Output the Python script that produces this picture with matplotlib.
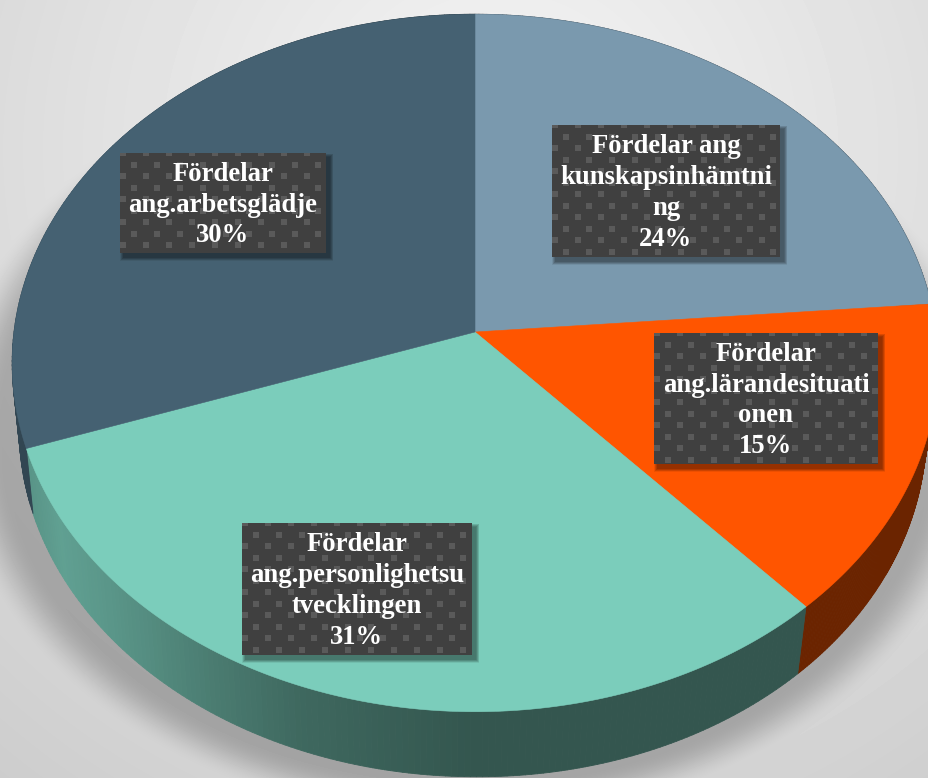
import numpy as np
import matplotlib
matplotlib.use("Agg")
import matplotlib.pyplot as plt
from matplotlib.collections import PolyCollection
from matplotlib.patches import Rectangle, Polygon

names = ["Fördelar ang\nkunskapsinhämtni\nng",
         "Fördelar\nang.lärandesituati\nonen",
         "Fördelar\nang.personlighetsu\ntvecklingen",
         "Fördelar\nang.arbetsglädje"]
values = [23.7, 14.6, 31.4, 30.3]
top_colors = ["#7a99ae", "#ff5500", "#7bcdbb", "#456172"]
label_boxes = [(552, 125, 780, 257), (654, 333, 878, 464),
               (242, 523, 472, 655), (120, 153, 326, 253)]

W, H = 929, 778
CX, CY, RX, RY, K = 475.0, 332.0, 461.0, 346.0, -0.0888
DEPTH = 65.0


def project(t):
    u, v = np.sin(t), np.cos(t)
    d = 1 - K * v
    return CX + RX * u / d, CY - RY * v / d


fig = plt.figure(figsize=(W / 100, H / 100), dpi=100)
ax = fig.add_axes([0, 0, 1, 1])
ax.set_xlim(0, W)
ax.set_ylim(H, 0)
ax.axis("off")

# background with soft shadow
yy, xx = np.mgrid[0:H, 0:W]
grey = 245 - 0.05 * np.hypot(xx - 500, yy - 150)
r = np.hypot((xx - 468) / 466, (yy - 430) / 352)
fall = np.clip(1 - (r - 1) * 400 / 48, 0, 1)
fall = fall * fall * (3 - 2 * fall)
grey = grey * (1 - 0.23 * fall)
ax.imshow(grey, cmap="gray", vmin=0, vmax=255, extent=(0, W, H, 0),
          aspect="auto", zorder=0, interpolation="bilinear")

edges = np.cumsum([0] + values) / sum(values) * 2 * np.pi
xp = [25, 60, 120, 200, 300, 475, 930]
mp = [0.72, 0.78, 0.72, 0.62, 0.51, 0.42, 0.42]

# side walls
polys, cols = [], []
for i, c in enumerate(top_colors):
    base = np.array(matplotlib.colors.to_rgb(c))
    ts = np.linspace(edges[i], edges[i + 1], 160)
    x, y = project(ts)
    xb = CX + (x - CX) * np.where(x > CX, 0.975, 0.985)
    yb = y + DEPTH + np.where(x > CX, 2.0 * (x - CX) / 330, 0.0)
    for j in range(len(ts) - 1):
        polys.append([(x[j], y[j]), (x[j + 1], y[j + 1]),
                      (xb[j + 1], yb[j + 1]), (xb[j], yb[j])])
        cols.append(base * np.interp(x[j], xp, mp))
ax.add_collection(PolyCollection(polys, facecolors=cols, edgecolors=cols,
                                 linewidths=0.6, zorder=2))

# top faces
for i, c in enumerate(top_colors):
    ts = np.linspace(edges[i], edges[i + 1], 300)
    x, y = project(ts)
    pts = np.column_stack([np.r_[CX, x], np.r_[CY, y]])
    ax.add_patch(Polygon(pts, closed=True, facecolor=c, edgecolor=c,
                         linewidth=0.4, zorder=3))

# labels
for name, v, (x0, y0, x1, y1) in zip(names, values, label_boxes):
    for k in range(7, 0, -1):
        ax.add_patch(Rectangle((x0 + 4 - k / 2, y0 + 4 - k / 2),
                               x1 - x0 + k, y1 - y0 + k,
                               facecolor="black", edgecolor="none",
                               alpha=0.07, zorder=4))
    box = Rectangle((x0, y0), x1 - x0, y1 - y0, facecolor="#404040",
                    edgecolor="none", zorder=5)
    ax.add_patch(box)
    for row, dy in enumerate(np.arange(-3, y1 - y0 + 6, 11.5)):
        off = 0 if row % 2 == 0 else 11.5
        for dx in np.arange(off, x1 - x0 + 6, 23):
            d = Rectangle((x0 + dx, y0 + dy), 6, 6, facecolor="#5a5a5a",
                          edgecolor="none", zorder=6)
            ax.add_patch(d)
            d.set_clip_path(box)
    ax.text((x0 + x1) / 2, (y0 + y1) / 2 + 2, f"{name}\n{round(v)}%",
            family="Liberation Serif", weight="bold", fontsize=19.2,
            color="white", ha="center", va="center", linespacing=1.3,
            zorder=7)

fig.savefig("out.png", dpi=100)
